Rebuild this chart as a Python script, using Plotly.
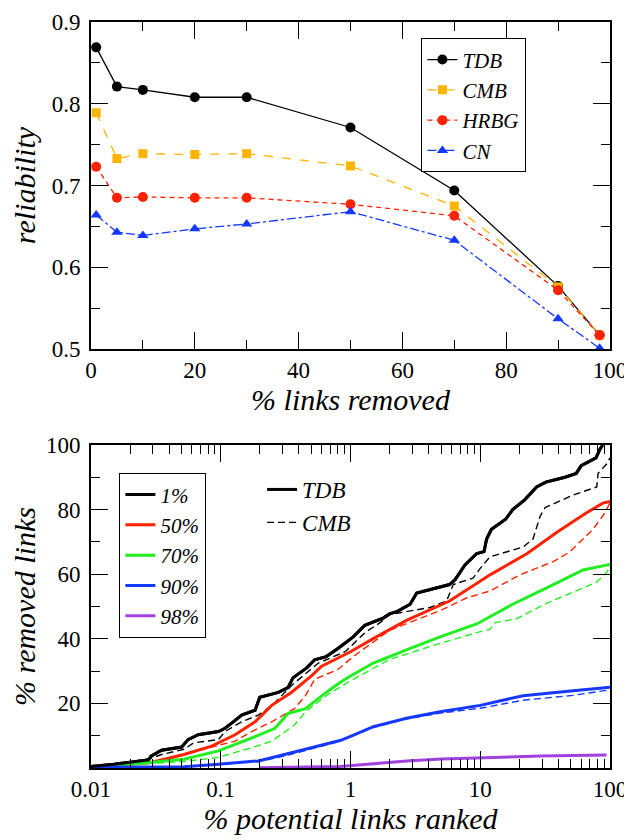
import plotly.graph_objects as go

# ---------------- top panel data ----------------
links_removed = [1, 5, 10, 20, 30, 50, 70, 90, 98]
rel_TDB = [0.869, 0.821, 0.817, 0.808, 0.808, 0.771, 0.694, 0.577, 0.517]
rel_CMB = [0.789, 0.733, 0.739, 0.738, 0.739, 0.724, 0.675, 0.576, 0.517]
rel_HRBG = [0.723, 0.685, 0.686, 0.685, 0.685, 0.677, 0.663, 0.572, 0.517]
rel_CN = [0.664, 0.643, 0.639, 0.647, 0.653, 0.668, 0.633, 0.537, 0.501]

# ---------------- bottom panel data ----------------
x_TDB_1 = [0.01, 0.015, 0.0277, 0.029, 0.035, 0.05, 0.056, 0.067, 0.096, 0.108, 0.125, 0.145,
           0.184, 0.2, 0.278, 0.33, 0.36, 0.46, 0.53, 0.65, 0.8, 1.05, 1.29, 1.8, 2.0, 2.3, 2.88,
           3.24, 5.8, 6.4, 7.6, 9.4, 10.7, 11.2, 12.2, 15.7, 17.8, 22, 27.2, 32, 45, 55, 60, 78,
           84, 88]
y_TDB_1 = [0.5, 1.2, 2.5, 3.7, 5.5, 6.5, 8.8, 10.3, 11.3, 12.3, 14.3, 16.4, 17.9, 21.9, 23.4,
           24.9, 27.9, 31, 33.5, 34.5, 37, 40.6, 44.2, 46.5, 47.7, 48.5, 50.7, 54.2, 56.8, 58.3,
           62.8, 66.4, 67, 70.9, 73.9, 77, 80, 83, 87, 88.5, 90, 91.2, 93.6, 96, 98.8, 100]

x_CMB_1 = [0.01, 0.015, 0.029, 0.035, 0.052, 0.062, 0.096, 0.108, 0.145, 0.195, 0.25, 0.35,
           0.565, 0.91, 1.3, 1.69, 2.0, 4.1, 5.5, 6.2, 8.8, 10, 11.9, 21.4, 25.5, 29, 31.6, 52,
           79, 81, 94, 100]
y_CMB_1 = [0.5, 1.0, 3.0, 4.2, 5.8, 7.8, 8.8, 11.3, 14.3, 16.4, 19.4, 25.5, 32.5, 36, 42, 45,
           47.5, 49.7, 51.7, 56.8, 58.8, 61.8, 65.4, 68.4, 70.9, 78, 80.6, 84.5, 87, 91.2, 94.1, 96]

x_TDB_50 = [0.01, 0.016, 0.029, 0.052, 0.085, 0.129, 0.184, 0.247, 0.35, 0.5, 0.6, 1.0, 1.58,
            2.7, 5.8, 11.9, 23, 39, 66, 88, 100]
y_TDB_50 = [0.5, 1.0, 1.7, 4.2, 6.8, 10.3, 14.3, 19.4, 23.4, 28.5, 31.5, 36, 40.6, 45.7, 51.7,
            59.8, 66.4, 73, 79, 82, 82.5]

x_CMB_50 = [0.01, 0.016, 0.029, 0.052, 0.085, 0.129, 0.173, 0.247, 0.37, 0.45, 0.53, 0.8, 1.05,
            2.01, 4.9, 7.9, 11.9, 20.2, 36.6, 49, 74, 88, 96, 100]
y_CMB_50 = [0.5, 1.0, 1.7, 4.0, 6.5, 8.3, 11.3, 14.3, 18.4, 22.4, 27.5, 30.5, 34.5, 42.7, 48.7,
            52.7, 54.8, 59.8, 63.9, 66.9, 73.9, 78, 81, 82]

x_TDB_70 = [0.01, 0.016, 0.052, 0.096, 0.173, 0.262, 0.33, 0.45, 0.65, 0.83, 1.0, 1.5, 2.7, 4.9,
            9.4, 17.8, 36.6, 62, 94, 100]
y_TDB_70 = [0.5, 0.8, 2.7, 5.3, 9.3, 12.3, 16.9, 18.4, 23.4, 26.5, 28.5, 32.5, 36.6, 40.6, 44.6,
            50.7, 56.8, 61.3, 62.8, 63]

x_CMB_70 = [0.01, 0.016, 0.052, 0.096, 0.173, 0.247, 0.37, 0.45, 0.65, 0.83, 1.0, 2.0, 4.9, 8.8,
            11.9, 13, 19, 32.4, 52, 79, 94, 100]
y_CMB_70 = [0.5, 0.8, 2.0, 3.3, 6.3, 8.3, 13.3, 17.4, 22.4, 24.9, 27, 33.6, 38.6, 41.6, 43, 45,
            46.2, 51, 54.5, 57.5, 60.5, 62]

x_TDB_90 = [0.01, 0.052, 0.096, 0.195, 0.31, 0.565, 0.83, 1.0, 1.5, 2.7, 4.9, 10, 21.4, 52, 100]
y_TDB_90 = [0.3, 0.4, 1.2, 2.2, 4.2, 6.8, 8.5, 9.8, 12.8, 15.4, 17.4, 19.4, 22.4, 23.9, 25]

x_CMB_90 = [0.01, 0.052, 0.096, 0.195, 0.31, 0.565, 0.83, 1.0, 1.5, 2.7, 4.9, 10, 21.4, 52, 100]
y_CMB_90 = [0.3, 0.4, 1.1, 2.0, 3.7, 6.5, 8.3, 9.6, 12.6, 15.2, 17.0, 18.5, 21, 22.5, 24.2]

x_TDB_98 = [0.2, 0.5, 0.83, 1.5, 2.7, 5, 10, 29, 94]
y_TDB_98 = [0.1, 0.3, 0.5, 1.3, 2.2, 2.8, 3.2, 3.7, 4.0]

top_x_ticks = [0, 20, 40, 60, 80, 100]
bottom_x_ticks = [0.01, 0.1, 1, 10, 100]
bottom_x_labels = ["0.01", "0.1", "1", "10", "100"]
bottom_y_ticks = [20, 40, 60, 80, 100]

FONT = "Liberation Serif"
BLACK = "#000000"
ORANGE = "#FFB400"
RED = "#FF2200"
GREEN = "#22EE22"
BLUE = "#1438FF"
PURPLE = "#A040E0"


def it(s):
    return "<i>" + s + "</i>"


fig = go.Figure()

# top panel traces
fig.add_trace(go.Scatter(x=links_removed, y=rel_TDB, name=it("TDB"), mode="lines+markers",
                         line=dict(color=BLACK, width=1.3), marker=dict(symbol="circle", size=10, color=BLACK),
                         xaxis="x", yaxis="y", legend="legend", cliponaxis=False))
fig.add_trace(go.Scatter(x=links_removed, y=rel_CMB, name=it("CMB"), mode="lines+markers",
                         line=dict(color=ORANGE, width=1.3, dash="dash"), marker=dict(symbol="square", size=9, color=ORANGE),
                         xaxis="x", yaxis="y", legend="legend", cliponaxis=False))
fig.add_trace(go.Scatter(x=links_removed, y=rel_HRBG, name=it("HRBG"), mode="lines+markers",
                         line=dict(color=RED, width=1.3, dash="5px,4px"), marker=dict(symbol="circle", size=10, color=RED),
                         xaxis="x", yaxis="y", legend="legend", cliponaxis=False))
fig.add_trace(go.Scatter(x=links_removed, y=rel_CN, name=it("CN"), mode="lines+markers",
                         line=dict(color=BLUE, width=1.3, dash="dashdot"), marker=dict(symbol="triangle-up", size=10, color=BLUE),
                         xaxis="x", yaxis="y", legend="legend", cliponaxis=False))

# bottom panel: CMB dashed curves (the black one also serves as the "CMB" style key)
fig.add_trace(go.Scatter(x=x_CMB_1, y=y_CMB_1, mode="lines", name=it("CMB"),
                         line=dict(color=BLACK, width=1.4, dash="7px,4px"), xaxis="x2", yaxis="y2",
                         legend="legend3", legendrank=2))
for xs, ys, c in [(x_CMB_50, y_CMB_50, RED), (x_CMB_70, y_CMB_70, GREEN), (x_CMB_90, y_CMB_90, BLUE)]:
    fig.add_trace(go.Scatter(x=xs, y=ys, mode="lines", showlegend=False,
                             line=dict(color=c, width=1.4, dash="7px,4px"), xaxis="x2", yaxis="y2"))

# bottom panel: TDB solid curves
for xs, ys, c, nm in [(x_TDB_1, y_TDB_1, BLACK, "1%"), (x_TDB_50, y_TDB_50, RED, "50%"),
                      (x_TDB_70, y_TDB_70, GREEN, "70%"), (x_TDB_90, y_TDB_90, BLUE, "90%"),
                      (x_TDB_98, y_TDB_98, PURPLE, "98%")]:
    fig.add_trace(go.Scatter(x=xs, y=ys, mode="lines", name=it(nm),
                             line=dict(color=c, width=3), xaxis="x2", yaxis="y2", legend="legend2"))

# "TDB" style key: the black TDB curve drawn again on itself
fig.add_trace(go.Scatter(x=x_TDB_1, y=y_TDB_1, mode="lines", name=it("TDB"),
                         line=dict(color=BLACK, width=3), xaxis="x2", yaxis="y2",
                         legend="legend3", legendrank=1))

axis_common = dict(showline=True, linecolor=BLACK, linewidth=1.6, mirror="allticks",
                   ticks="inside", tickcolor=BLACK, tickwidth=1.4, ticklen=17,
                   showgrid=False, zeroline=False, automargin=False,
                   tickfont=dict(family=FONT, size=23, color=BLACK))
title_font = dict(family=FONT, size=30, color=BLACK)

minor_log = [m * 10 ** k for k in range(-2, 2) for m in range(2, 10)]

fig.update_layout(
    width=632, height=840,
    margin=dict(l=0, r=0, t=0, b=0, pad=0, autoexpand=False),
    paper_bgcolor="white", plot_bgcolor="white",
    xaxis=dict(domain=[0.1313, 0.9525], anchor="y", range=[0, 100], tickvals=top_x_ticks,
               minor=dict(dtick=10, ticks="inside", ticklen=9, tickcolor=BLACK, tickwidth=1.4),
               title=dict(text=it("% links removed"), font=title_font, standoff=0),
               ticklabelstandoff=0, **axis_common),
    yaxis=dict(domain=[0.594, 0.9833], anchor="x", range=[0.5, 0.9], dtick=0.1, tickformat=".1f",
               minor=dict(dtick=0.05, ticks="inside", ticklen=9, tickcolor=BLACK, tickwidth=1.4),
               title=dict(text=it("reliability"), font=title_font, standoff=8),
               ticklabelstandoff=4, **axis_common),
    xaxis2=dict(domain=[0.1313, 0.9525], anchor="y2", type="log", range=[-2, 2],
                tickvals=bottom_x_ticks, ticktext=bottom_x_labels,
                minor=dict(tickvals=minor_log, ticks="inside", ticklen=9, tickcolor=BLACK, tickwidth=1.4),
                title=dict(text=it("% potential links ranked"), font=title_font, standoff=0),
                ticklabelstandoff=0, **axis_common),
    yaxis2=dict(domain=[0.0952, 0.4798], anchor="x2", range=[0, 100], tickvals=bottom_y_ticks,
                minor=dict(dtick=10, ticks="inside", ticklen=9, tickcolor=BLACK, tickwidth=1.4),
                title=dict(text=it("% removed links"), font=title_font, standoff=8),
                ticklabelstandoff=4, **axis_common),
    legend=dict(x=0.6535, y=0.9643, xanchor="left", yanchor="top", bgcolor="white",
                bordercolor=BLACK, borderwidth=1.4,
                font=dict(family=FONT, size=21, color=BLACK), tracegroupgap=0),
    legend2=dict(x=0.1756, y=0.4464, xanchor="left", yanchor="top", bgcolor="white",
                 bordercolor=BLACK, borderwidth=1.4,
                 font=dict(family=FONT, size=21, color=BLACK), tracegroupgap=0),
    legend3=dict(x=0.402, y=0.4524, xanchor="left", yanchor="top", bgcolor="rgba(0,0,0,0)",
                 borderwidth=0,
                 font=dict(family=FONT, size=23, color=BLACK), tracegroupgap=0),
    showlegend=True,
)

fig.write_html("out.html")
